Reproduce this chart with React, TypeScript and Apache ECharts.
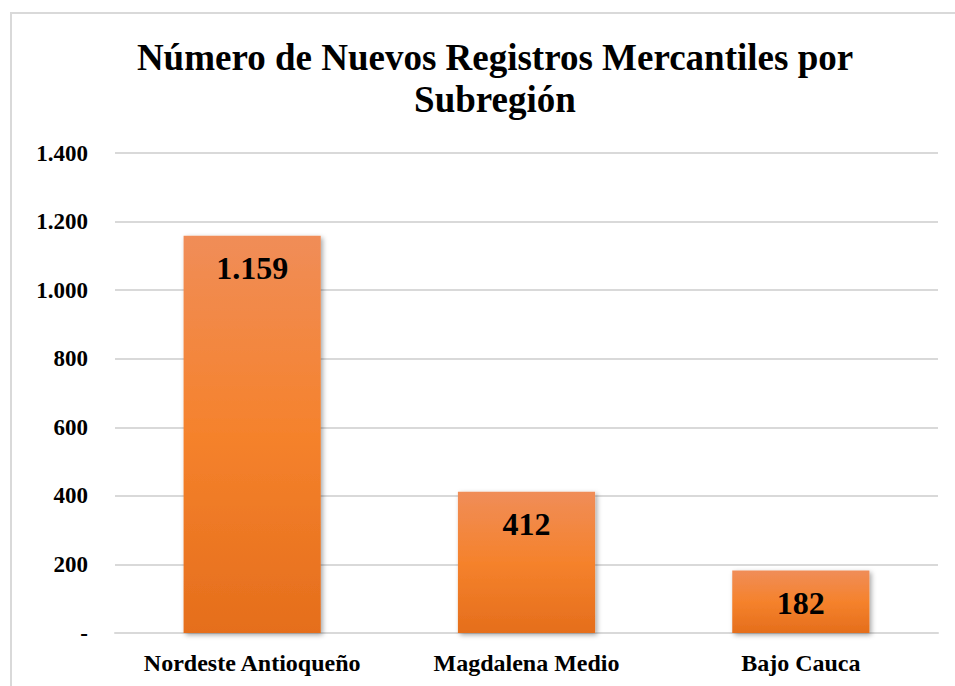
import React, { useEffect, useRef } from "react";
import * as echarts from "echarts";

const categories = ["Nordeste Antioqueño", "Magdalena Medio", "Bajo Cauca"];
const values = [1159, 412, 182];
const titleText = "Número de Nuevos Registros Mercantiles por\nSubregión";

const fmt = (v: number) => {
  if (v === 0) return "-";
  return String(v).replace(/\B(?=(\d{3})+(?!\d))/g, ".");
};

export default function App() {
  const ref = useRef<HTMLDivElement>(null);
  useEffect(() => {
    document.body.style.margin = "0";
    const chart = echarts.init(ref.current!, null, { renderer: "svg" });
    const font = "Liberation Serif";
    chart.setOption({
      animation: false,
      backgroundColor: "#ffffff",
      title: {
        text: titleText,
        left: 490,
        textAlign: "center",
        top: 31,
        textStyle: {
          fontFamily: font,
          fontWeight: "bold",
          fontSize: 37,
          lineHeight: 42,
          color: "#000000",
        },
      },
      graphic: [
        {
          type: "rect",
          shape: { x: 11, y: 13, width: 1000, height: 1000 },
          style: { fill: "none", stroke: "#d9d9d9", lineWidth: 2 },
          silent: true,
        },
      ],
      grid: { left: 115, right: 17, top: 153, bottom: 53 },
      xAxis: {
        type: "category",
        data: categories,
        axisLine: { show: true, lineStyle: { color: "#d9d9d9", width: 2 } },
        axisTick: { show: false },
        axisLabel: {
          interval: 0,
          fontFamily: font,
          fontWeight: "bold",
          fontSize: 24,
          color: "#000000",
          margin: 18,
        },
      },
      yAxis: {
        type: "value",
        min: 0,
        max: 1400,
        interval: 200,
        axisLine: { show: false },
        axisTick: { show: false },
        splitLine: { lineStyle: { color: "#d9d9d9", width: 2 } },
        axisLabel: {
          fontFamily: font,
          fontWeight: "bold",
          fontSize: 23,
          color: "#000000",
          margin: 27,
          formatter: (v: number) => fmt(v),
        },
      },
      series: [
        {
          type: "bar",
          data: values,
          barWidth: "50%",
          itemStyle: {
            color: new echarts.graphic.LinearGradient(0, 0, 0, 1, [
              { offset: 0, color: "#f08d58" },
              { offset: 0.5, color: "#f5822c" },
              { offset: 1, color: "#e56e1c" },
            ]),
            shadowColor: "rgba(0,0,0,0.35)",
            shadowBlur: 5,
            shadowOffsetX: 2,
            shadowOffsetY: 2,
          },
          label: {
            show: true,
            position: "insideTop",
            distance: 16,
            fontFamily: font,
            fontWeight: "bold",
            fontSize: 32,
            color: "#000000",
            formatter: (p: any) => fmt(p.value),
          },
        },
      ],
    });
    return () => chart.dispose();
  }, []);
  return <div ref={ref} style={{ width: 955, height: 686, position: "absolute", left: 0, top: 0 }} />;
}
